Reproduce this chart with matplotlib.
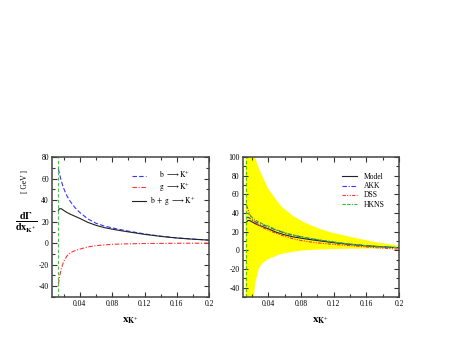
"""
K+ energy spectrum in top decay: contributions (left) and FF comparison (right)
"""
import matplotlib
matplotlib.use('Agg')
import matplotlib.pyplot as plt
from matplotlib.ticker import MultipleLocator, FuncFormatter

plt.rcParams['font.family'] = ['Liberation Serif', 'DejaVu Serif']
plt.rcParams['mathtext.fontset'] = 'stix'

# ---- data ----
x_cut_left = 0.0135   # kinematic threshold (green dashed line)
x_cut_right = 0.0121

x = [0.0135, 0.015, 0.017, 0.02, 0.024, 0.028, 0.034, 0.04, 0.05, 0.06,
     0.07, 0.08, 0.09, 0.1, 0.12, 0.14, 0.16, 0.18, 0.2]
b_to_k = [69, 64, 58, 51, 44, 39, 33, 28.5, 22.5, 18.5,
          16, 14.2, 12.6, 11.2, 8.6, 6.5, 4.9, 3.8, 2.9]
g_to_k = [-38, -31, -24, -17, -12, -9, -7, -5.5, -3.5, -2.3,
          -1.6, -1.1, -0.8, -0.6, -0.3, -0.2, -0.1, -0.05, 0]
bg_to_k = [30.5, 32, 32, 30.5, 28.5, 27, 25, 23, 19.3, 16.6,
           14.5, 13, 11.7, 10.5, 8.2, 6.3, 4.8, 3.7, 2.8]

akk = [35, 35.5, 34.5, 32.5, 30.5, 29, 27, 25, 21.5, 18.5,
       16.2, 14.5, 12.8, 11.4, 8.8, 6.6, 5, 3.8, 2.8]
dss = [48, 44, 39, 34, 30, 27, 24, 21.5, 18, 15,
       12.5, 10.5, 9.2, 8.0, 6.4, 5.0, 3.6, 2.4, 1.2]
hkns = [40, 39.5, 38, 35.5, 32.5, 30.5, 28, 26, 22, 19,
        16.6, 14.8, 13, 11.6, 8.9, 6.7, 5, 3.8, 2.8]

# scale-variation band
x_band = [0.0121, 0.015, 0.018, 0.021, 0.0223, 0.0236, 0.0244, 0.0285, 0.0326,
          0.04, 0.055, 0.07, 0.084, 0.1, 0.115, 0.14, 0.17, 0.2]
band_hi = [600, 400, 250, 150, 125, 102, 98, 88, 80,
           66, 48, 37, 30, 24, 19.6, 14.5, 9, 5]
band_lo = [-600, -400, -200, -80, -50, -40, -34, -19.6, -14,
           -9.5, -4, -1.5, 0, 0.8, 1.3, 1.8, 1.9, 2]

xticks = [0.04, 0.08, 0.12, 0.16, 0.2]

# ---- figure ----
fig = plt.figure(figsize=(4.51, 3.49), dpi=100)
ax1 = fig.add_axes([0.116, 0.149, 0.348, 0.401])
ax2 = fig.add_axes([0.539, 0.149, 0.346, 0.401])

lw = 0.8
green = '#22dd22'

# 左图：各贡献
ax1.plot(x, b_to_k, color='#3333ff', ls=(0, (4, 2)), lw=lw,
         label=r'$\hspace{1.7}\mathrm{b}\ \longrightarrow\mathrm{K}^{+}$')
ax1.plot(x, g_to_k, color='#ff3333', ls=(0, (4, 1.5, 1, 1.5)), lw=lw,
         label=r'$\hspace{1.7}\mathrm{g}\ \longrightarrow\mathrm{K}^{+}$')
ax1.plot(x, bg_to_k, color='#222222', ls='-', lw=lw,
         label=r'$\mathrm{b}\ +\ \mathrm{g}\ \longrightarrow\mathrm{K}^{+}$')
ax1.axvline(x_cut_left, color=green, ls=(0, (3, 2)), lw=lw)
ax1.set_xlim(0.006, 0.2)
ax1.set_ylim(-50, 80)
ax1.yaxis.set_major_locator(MultipleLocator(20))
ax1.yaxis.set_minor_locator(MultipleLocator(10))

# 右图：不同碎裂函数
ax2.fill_between(x_band, band_lo, band_hi, color='#ffff00', lw=0)
ax2.plot(x, bg_to_k, color='#222222', ls='-', lw=lw, label='Model')
ax2.plot(x, akk, color='#3333ff', ls=(0, (4, 1.5, 1, 1.5)), lw=lw, label='AKK')
ax2.plot(x, dss, color='#ff3333', ls=(0, (3, 1.2, 1, 1.2, 1, 1.2)), lw=lw, label='DSS')
ax2.plot(x, hkns, color='#33bb33', ls=(0, (3, 1.2, 3, 1.2, 1, 1.2)), lw=lw, label='HKNS')
ax2.axvline(x_cut_right, color=green, ls=(0, (3, 2)), lw=lw)
ax2.set_xlim(0.009, 0.2)
ax2.set_ylim(-50, 100)
ax2.yaxis.set_major_locator(MultipleLocator(20))
ax2.yaxis.set_minor_locator(MultipleLocator(10))

for ax in (ax1, ax2):
    ax.set_xticks(xticks)
    ax.xaxis.set_minor_locator(MultipleLocator(0.02))
    ax.xaxis.set_major_formatter(FuncFormatter(lambda v, p: f'{v:g}'))
    ax.yaxis.set_major_formatter(FuncFormatter(lambda v, p: f'{v:g}'))
    ax.tick_params(which='both', direction='in', top=True, right=True,
                   labelsize=5.5, width=0.8, colors='#333333', labelcolor='black', pad=2.5)
    ax.tick_params(which='major', length=3.5)
    ax.tick_params(which='minor', length=2)
    for s in ax.spines.values():
        s.set_linewidth(1.1)
        s.set_color('#444444')
    ax.set_xlabel(r'$\mathbf{x}_{\mathbf{K}^{+}}$', fontsize=8, labelpad=5)

ax1.legend(loc='upper left', bbox_to_anchor=(0.505, 0.915), frameon=False,
           fontsize=5.5, handlelength=1.9, handletextpad=0.5, labelspacing=0.05,
           borderaxespad=0, borderpad=0)
ax2.legend(loc='upper left', bbox_to_anchor=(0.635, 0.885), frameon=False,
           fontsize=5.5, handlelength=2.0, handletextpad=0.8, labelspacing=0.15,
           borderaxespad=0, borderpad=0)

# y 轴标题
fig.text(0.058, 1 - 223 / 349,
         r'$\frac{\mathbf{d}\mathbf{\Gamma}}{\mathbf{dx}_{\mathbf{K}^{+}}}$',
         fontsize=10.5, ha='center', va='center')
fig.text(0.055, 1 - 182 / 349, '[ GeV ]', fontsize=5.5, rotation=90,
         ha='center', va='center')

fig.savefig('out.png', dpi=100)
